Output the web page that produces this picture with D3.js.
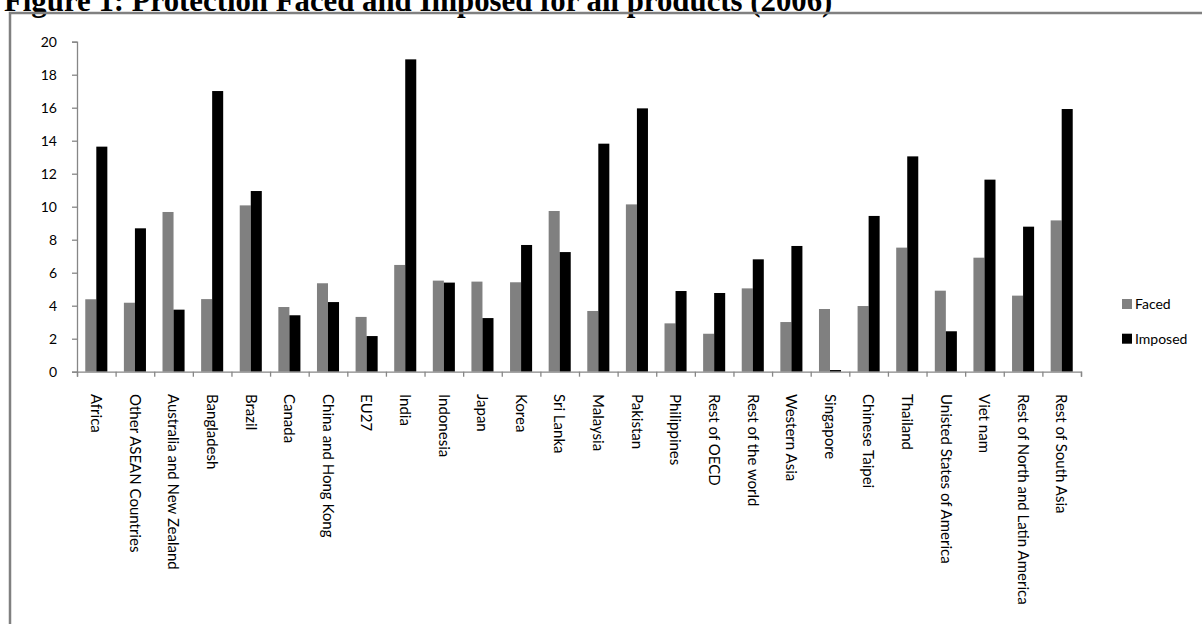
<!DOCTYPE html>
<html>
<head>
<meta charset="utf-8">
<script src="https://cdn.jsdelivr.net/npm/d3@7"></script>
<style>
  html, body { margin: 0; padding: 0; background: #fff; }
  svg { display: block; }
</style>
</head>
<body>
<svg id="chart" width="1202" height="624"></svg>
<script>
// Regions (exporter / importer groups)
const categories = [
  "Africa", "Other ASEAN Countries", "Australia and New Zealand", "Bangladesh",
  "Brazil", "Canada", "China and Hong Kong", "EU27", "India", "Indonesia",
  "Japan", "Korea", "Sri Lanka", "Malaysia", "Pakistan", "Philippines",
  "Rest of OECD", "Rest of the world", "Western Asia", "Singapore",
  "Chinese Taipei", "Thailand", "Unisted States of America", "Viet nam",
  "Rest of North and Latin America", "Rest of South Asia"
];

// Protection faced by each region's exports
const faced = [
  4.39, 4.18, 9.68, 4.40, 10.08, 3.92, 5.36, 3.32, 6.47, 5.52,
  5.46, 5.42, 9.74, 3.68, 10.14, 2.93, 2.30, 5.05, 3.01, 3.80,
  3.98, 7.52, 4.91, 6.91, 4.61, 9.17
];

// Protection imposed by each region on its imports
const imposed = [
  13.64, 8.69, 3.76, 17.01, 10.95, 3.42, 4.22, 2.16, 18.93, 5.40,
  3.25, 7.68, 7.25, 13.82, 15.96, 4.89, 4.77, 6.81, 7.62, 0.10,
  9.44, 13.05, 2.45, 11.64, 8.79, 15.92
];

const seriesNames = ["Faced", "Imposed"];
const seriesColors = ["#808080", "#000000"];
const yTicks = [0, 2, 4, 6, 8, 10, 12, 14, 16, 18, 20];
const title = "Figure 1:  Protection Faced and Imposed for all products (2006)";

const svg = d3.select("#chart");
const axisGray = "#868686";
const font = "Lato, 'Open Sans', sans-serif";

// Title (partly above the top edge of the page)
svg.append("text")
  .attr("x", 4)
  .attr("y", 11)
  .attr("font-family", "'Liberation Serif', 'Times New Roman', serif")
  .attr("font-weight", "bold")
  .attr("font-size", 30.8)
  .attr("fill", "#000")
  .text(title);

// Frame around the chart area (top and left edges)
svg.append("path")
  .attr("d", "M10,624 V13 H1202")
  .attr("fill", "none")
  .attr("stroke", "#808080")
  .attr("stroke-width", 2.5);

// Scales
const x = d3.scaleBand().domain(categories).range([77, 1081]).paddingInner(0).paddingOuter(0);
const xs = d3.scaleBand().domain(seriesNames).range([0, x.bandwidth()]).paddingInner(0).paddingOuter(0.75);
const y = d3.scaleLinear().domain([0, 20]).range([371.7, 41.7]);

// Bars
const rows = categories.map((c, i) => ({ cat: c, values: [faced[i], imposed[i]] }));
const groups = svg.append("g").selectAll("g")
  .data(rows).join("g")
  .attr("transform", d => `translate(${x(d.cat)},0)`);

groups.selectAll("rect")
  .data(d => d.values.map((v, k) => ({ key: seriesNames[k], value: v, color: seriesColors[k] })))
  .join("rect")
  .attr("x", d => xs(d.key))
  .attr("width", xs.bandwidth())
  .attr("y", d => y(d.value))
  .attr("height", d => y(0) - y(d.value))
  .attr("fill", d => d.color);

// Y axis
const yAxis = svg.append("g")
  .attr("transform", `translate(${77},0)`)
  .call(d3.axisLeft(y).tickValues(yTicks).tickSize(5).tickPadding(15).tickFormat(d3.format("d")));
yAxis.select(".domain").attr("stroke", axisGray).attr("stroke-width", 1.3);
yAxis.selectAll(".tick line").attr("stroke", axisGray).attr("stroke-width", 1.3);
yAxis.selectAll(".tick text")
  .attr("font-family", font)
  .attr("font-size", 14)
  .attr("fill", "#000");

// X axis: tick marks sit on the boundaries between categories
const xEdges = d3.scaleLinear().domain([0, categories.length]).range(x.range());
const xAxis = svg.append("g")
  .attr("transform", `translate(0,${y(0)})`)
  .call(d3.axisBottom(xEdges).tickValues(d3.range(categories.length + 1)).tickSize(5).tickFormat(""));
xAxis.select(".domain").attr("stroke", axisGray).attr("stroke-width", 1.3);
xAxis.selectAll(".tick line").attr("stroke", axisGray).attr("stroke-width", 1.3);

// Category labels, rotated to read downward
svg.append("g").selectAll("text")
  .data(categories).join("text")
  .attr("transform", d => `translate(${x(d) + x.bandwidth() / 2},${394}) rotate(90)`)
  .attr("dy", "0.35em")
  .attr("font-family", font)
  .attr("font-size", 15)
  .attr("fill", "#000")
  .text(d => d);

// Legend
const legend = svg.append("g").selectAll("g")
  .data(seriesNames).join("g")
  .attr("transform", (d, i) => `translate(1122,${304 + i * 34.7})`);
legend.append("rect")
  .attr("x", 0).attr("y", -5)
  .attr("width", 10).attr("height", 10)
  .attr("fill", (d, i) => seriesColors[i]);
legend.append("text")
  .attr("x", 13).attr("dy", "0.35em")
  .attr("font-family", font)
  .attr("font-size", 14)
  .attr("fill", "#000")
  .text(d => d);
</script>
</body>
</html>
